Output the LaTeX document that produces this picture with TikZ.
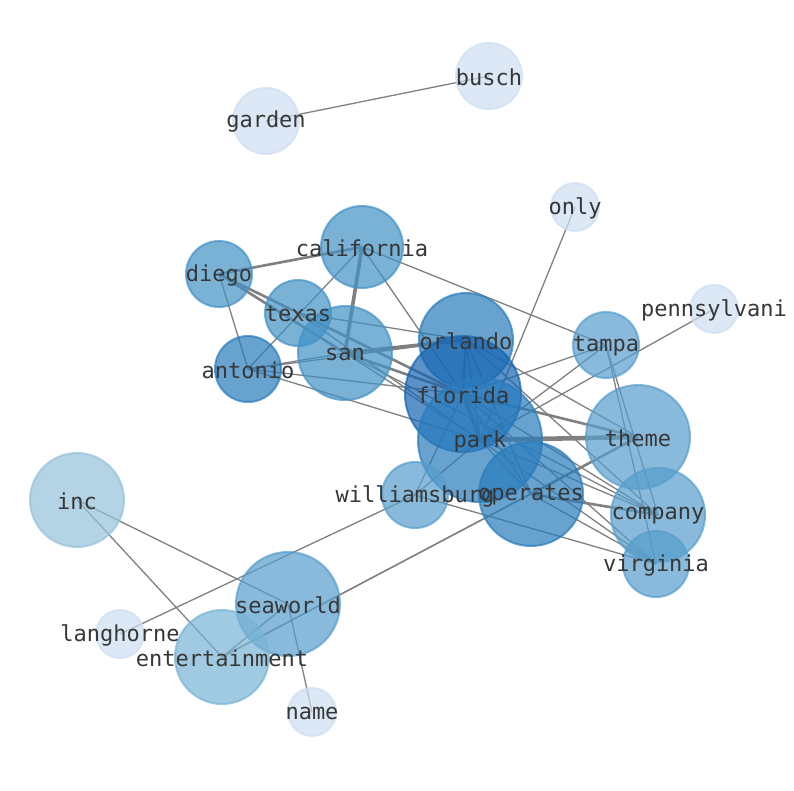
\documentclass[tikz,border=0pt]{standalone}
\usepackage{fontspec}
\setmonofont{DejaVu Sans Mono}
\usetikzlibrary{backgrounds}
\pgfdeclarelayer{front}
\pgfsetlayers{background,main,front}
\definecolor{blueA}{RGB}{206,223,241}
\definecolor{blueB}{RGB}{149,194,220}
\definecolor{blueC}{RGB}{120,180,213}
\definecolor{blueD}{RGB}{87,158,205}
\definecolor{blueE}{RGB}{66,146,198}
\definecolor{blueF}{RGB}{41,124,189}
\definecolor{blueG}{RGB}{22,100,178}
\definecolor{wordgray}{RGB}{55,55,55}
\tikzstyle{word}=[circle,inner sep=0pt,line width=2pt,fill opacity=0.7,draw opacity=0.7]
\tikzstyle{lvA}=[word,fill=blueA,draw=blueA]
\tikzstyle{lvB}=[word,fill=blueB,draw=blueB]
\tikzstyle{lvC}=[word,fill=blueC,draw=blueC]
\tikzstyle{lvD}=[word,fill=blueD,draw=blueD]
\tikzstyle{lvE}=[word,fill=blueE,draw=blueE]
\tikzstyle{lvF}=[word,fill=blueF,draw=blueF]
\tikzstyle{lvG}=[word,fill=blueG,draw=blueG]
\tikzstyle{wordtext}=[font=\fontsize{22}{26}\selectfont\ttfamily,text=wordgray,inner sep=0pt,yshift=-1pt]
\tikzstyle{link}=[draw=gray,line width=1.3pt]
\tikzstyle{link2}=[link,line width=2.6pt]
\tikzstyle{link3}=[link,line width=3.6pt]
\tikzstyle{link4}=[link,line width=4.6pt]

\begin{document}
\begin{tikzpicture}[x=1pt,y=-1pt]

  \useasboundingbox (0,0) rectangle (794,790);

  % words
  \node[lvA,minimum size=66pt] (garden) at (266,121) {};
  \node[lvA,minimum size=66pt] (busch) at (489,76) {};
  \node[lvA,minimum size=48pt] (only) at (575,207) {};
  \node[lvA,minimum size=48pt] (pennsylvani) at (714,309) {};
  \node[lvE,minimum size=82pt] (california) at (362,247) {};
  \node[lvE,minimum size=66pt] (diego) at (219,274) {};
  \node[lvE,minimum size=66pt] (texas) at (298,313) {};
  \node[lvE,minimum size=94pt] (san) at (345,353) {};
  \node[lvF,minimum size=66pt] (antonio) at (248,369) {};
  \node[lvF,minimum size=94pt] (orlando) at (466,340) {};
  \node[lvD,minimum size=66pt] (tampa) at (606,345) {};
  \node[lvG,minimum size=116pt] (florida) at (463,394) {};
  \node[lvF,minimum size=124pt] (park) at (480,440) {};
  \node[lvD,minimum size=104pt] (theme) at (638,437) {};
  \node[lvB,minimum size=94pt] (inc) at (77,500) {};
  \node[lvD,minimum size=66pt] (williamsburg) at (415,495) {};
  \node[lvF,minimum size=104pt] (operates) at (531,494) {};
  \node[lvD,minimum size=94pt] (company) at (658,515) {};
  \node[lvD,minimum size=66pt] (virginia) at (656,564) {};
  \node[lvD,minimum size=104pt] (seaworld) at (288,604) {};
  \node[lvA,minimum size=48pt] (langhorne) at (120,634) {};
  \node[lvC,minimum size=94pt] (entertainment) at (222,657) {};
  \node[lvA,minimum size=48pt] (name) at (312,712) {};

  % labels on top of every circle
  \begin{pgfonlayer}{front}
    \foreach \w in {garden,busch,only,pennsylvani,california,diego,texas,san,
      antonio,orlando,tampa,florida,park,theme,inc,williamsburg,operates,
      company,virginia,seaworld,langhorne,entertainment,name}
      \node[wordtext] at (\w.center) {\w};
  \end{pgfonlayer}

  % links
  \begin{pgfonlayer}{background}
    \fill[white] (0,0) rectangle (794,790);
    \path[link]
    (garden.center) edge (busch.center)
    (only.center) edge (park.center)
    (pennsylvani.center) edge (park.center)
    (california.center) edge[link2] (diego.center)
    (california.center) edge (antonio.center)
    (california.center) edge[link3] (san.center)
    (california.center) edge (florida.center)
    (california.center) edge (tampa.center)
    (diego.center) edge (antonio.center)
    (diego.center) edge[link2] (san.center)
    (diego.center) edge[link2] (florida.center)
    (texas.center) edge (orlando.center)
    (texas.center) edge (florida.center)
    (texas.center) edge (park.center)
    (san.center) edge[link3] (orlando.center)
    (san.center) edge[link2] (florida.center)
    (san.center) edge (park.center)
    (san.center) edge (company.center)
    (antonio.center) edge (san.center)
    (antonio.center) edge (orlando.center)
    (antonio.center) edge (florida.center)
    (antonio.center) edge (park.center)
    (orlando.center) edge[link2] (florida.center)
    (orlando.center) edge (park.center)
    (orlando.center) edge (operates.center)
    (orlando.center) edge (theme.center)
    (orlando.center) edge (company.center)
    (florida.center) edge[link3] (park.center)
    (florida.center) edge[link2] (theme.center)
    (florida.center) edge (operates.center)
    (florida.center) edge (company.center)
    (florida.center) edge (virginia.center)
    (florida.center) edge (williamsburg.center)
    (park.center) edge[link4] (theme.center)
    (park.center) edge (operates.center)
    (park.center) edge (company.center)
    (park.center) edge (virginia.center)
    (park.center) edge (williamsburg.center)
    (operates.center) edge[link2] (theme.center)
    (operates.center) edge[link2] (company.center)
    (operates.center) edge (virginia.center)
    (tampa.center) edge (florida.center)
    (tampa.center) edge (park.center)
    (tampa.center) edge (company.center)
    (tampa.center) edge (virginia.center)
    (williamsburg.center) edge (virginia.center)
    (williamsburg.center) edge (langhorne.center)
    (entertainment.center) edge (theme.center)
    (entertainment.center) edge (operates.center)
    (entertainment.center) edge (inc.center)
    (entertainment.center) edge (seaworld.center)
    (seaworld.center) edge (inc.center)
    (seaworld.center) edge (name.center);
  \end{pgfonlayer}
\end{tikzpicture}
\end{document}
